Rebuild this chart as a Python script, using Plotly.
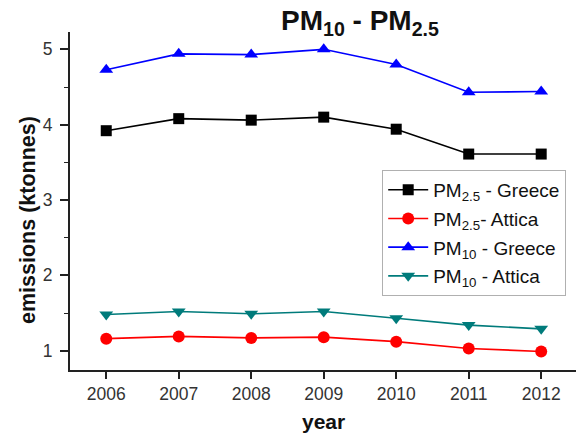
import plotly.graph_objects as go

years = [2006, 2007, 2008, 2009, 2010, 2011, 2012]
pm25_greece = [3.92, 4.08, 4.06, 4.10, 3.94, 3.61, 3.61]
pm25_attica = [1.16, 1.19, 1.17, 1.18, 1.12, 1.03, 0.99]
pm10_greece = [4.73, 4.94, 4.93, 5.00, 4.80, 4.43, 4.44]
pm10_attica = [1.48, 1.52, 1.49, 1.52, 1.43, 1.34, 1.29]

series = [
    ("PM<sub>2.5</sub> - Greece", pm25_greece, "#000000", "square", 11),
    ("PM<sub>2.5</sub>- Attica", pm25_attica, "#ff0000", "circle", 12),
    ("PM<sub>10</sub> - Greece", pm10_greece, "#0000ff", "triangle-up", 12),
    ("PM<sub>10</sub> - Attica", pm10_attica, "#007b7b", "triangle-down", 12),
]

FONT = "Liberation Sans, Arial, sans-serif"

fig = go.Figure()
for i, (name, vals, color, sym, size) in enumerate(series):
    fig.add_trace(go.Scatter(
        x=years, y=vals, name=name, mode="lines+markers",
        line=dict(color=color, width=1.6),
        marker=dict(symbol=sym, size=size, color=color),
        legendgroup=f"g{i}",
    ))

fig.update_layout(
    width=576, height=434,
    margin=dict(l=70, r=0, t=32, b=64),
    paper_bgcolor="white", plot_bgcolor="white",
    font=dict(family=FONT, color="#333333"),
    showlegend=True,
    legend=dict(
        x=0.617, y=0.592, xanchor="left", yanchor="top",
        bgcolor="white", bordercolor="#b0b0b0", borderwidth=1,
        font=dict(family=FONT, size=19, color="#111111"),
        tracegroupgap=1, itemwidth=40,
    ),
    xaxis=dict(
        range=[2005.5, 2012.48], tickvals=years,
        showgrid=False, zeroline=False,
        showline=True, linecolor="#222222", linewidth=2,
        ticks="outside", ticklen=7, tickwidth=1.5, tickcolor="#222222",
        tickfont=dict(size=17.5, color="#333333"),
    ),
    yaxis=dict(
        range=[0.744, 5.23], tickvals=[1, 2, 3, 4, 5],
        showgrid=False, zeroline=False,
        showline=True, linecolor="#222222", linewidth=2,
        ticks="outside", ticklen=8, tickwidth=1.5, tickcolor="#222222",
        tickfont=dict(size=17.5, color="#333333"),
        ticklabelstandoff=4,
        minor=dict(tickvals=[1.5, 2.5, 3.5, 4.5], ticks="outside", ticklen=4,
                   tickwidth=1.2, tickcolor="#222222", showgrid=False),
    ),
    annotations=[
        dict(text="<b>PM<sub>10</sub> - PM<sub>2.5</sub></b>", xref="paper", yref="paper",
             x=(360 - 70) / 506, y=(370 - 22) / 338, xanchor="center", yanchor="middle",
             showarrow=False, font=dict(family=FONT, size=28, color="#111111")),
        dict(text="<b>emissions (ktonnes)</b>", xref="paper", yref="paper",
             x=(28 - 70) / 506, y=(370 - 220) / 338, xanchor="center", yanchor="middle",
             textangle=-90, showarrow=False, font=dict(family=FONT, size=21.5, color="#111111")),
        dict(text="<b>year</b>", xref="paper", yref="paper",
             x=0.5, y=(370 - 422) / 338, xanchor="center", yanchor="middle",
             showarrow=False, font=dict(family=FONT, size=21, color="#111111")),
    ],
)

fig.write_html("out.html")
